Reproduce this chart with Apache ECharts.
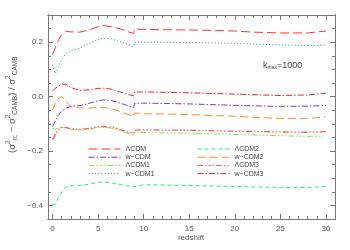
<!DOCTYPE html>
<html><head><meta charset="utf-8">
<script src="https://cdn.jsdelivr.net/npm/echarts@6/dist/echarts.min.js"></script>
<style>html,body{margin:0;padding:0;background:#fff}#c{width:350px;height:250px}</style>
</head><body><div id="c"></div>
<script>
// ---- data ----
const redshift = [0, 0.3, 0.6, 1, 1.5, 2, 3, 4, 5, 5.6, 6.5, 7.5, 8.5, 8.9, 9.0, 10, 12, 15, 18, 20, 22, 25, 28, 30];
const LCDM   = [0.155, 0.18, 0.205, 0.228, 0.24, 0.238, 0.237, 0.245, 0.257, 0.261, 0.257, 0.248, 0.236, 0.232, 0.248, 0.247, 0.246, 0.245, 0.243, 0.241, 0.237, 0.234, 0.234, 0.241];
const wCDM1  = [0.117, 0.085, 0.105, 0.135, 0.16, 0.17, 0.178, 0.195, 0.21, 0.215, 0.212, 0.201, 0.188, 0.184, 0.2, 0.2, 0.2, 0.199, 0.197, 0.196, 0.193, 0.19, 0.188, 0.189];
const wCDM3  = [0.022, 0.03, 0.038, 0.046, 0.045, 0.033, 0.023, 0.025, 0.03, 0.031, 0.027, 0.016, 0.006, 0.003, 0.017, 0.017, 0.016, 0.014, 0.011, 0.009, 0.007, 0.004, 0.006, 0.012];
const wCDM   = [-0.11, -0.09, -0.07, -0.055, -0.042, -0.036, -0.033, -0.025, -0.015, -0.012, -0.015, -0.025, -0.036, -0.04, -0.025, -0.024, -0.025, -0.027, -0.03, -0.032, -0.034, -0.036, -0.035, -0.033];
const wCDM2  = [-0.05, -0.025, -0.007, 0.0, -0.02, -0.035, -0.042, -0.042, -0.04, -0.04, -0.045, -0.056, -0.068, -0.073, -0.06, -0.063, -0.064, -0.066, -0.07, -0.072, -0.076, -0.08, -0.08, -0.075];
const LCDM3  = [-0.158, -0.14, -0.122, -0.113, -0.114, -0.118, -0.121, -0.117, -0.111, -0.11, -0.113, -0.122, -0.132, -0.135, -0.123, -0.122, -0.123, -0.124, -0.126, -0.127, -0.128, -0.13, -0.131, -0.129];
const LCDM1  = [-0.115, -0.12, -0.115, -0.112, -0.115, -0.12, -0.124, -0.12, -0.113, -0.112, -0.116, -0.126, -0.138, -0.142, -0.131, -0.132, -0.133, -0.135, -0.137, -0.139, -0.141, -0.144, -0.146, -0.145];
const LCDM2  = [-0.397, -0.397, -0.375, -0.35, -0.332, -0.328, -0.327, -0.322, -0.315, -0.314, -0.317, -0.324, -0.33, -0.331, -0.324, -0.324, -0.325, -0.327, -0.329, -0.33, -0.332, -0.334, -0.334, -0.331];

const xMajorTicks = [0, 5, 10, 15, 20, 25, 30];
const xMinorTicks = [0,1,2,3,4,5,6,7,8,9,10,11,12,13,14,15,16,17,18,19,20,21,22,23,24,25,26,27,28,29,30,31];
const yMajorTicks = [-0.4, -0.2, 0.0, 0.2];
const yMinorTicks = [-0.45, -0.4, -0.35, -0.3, -0.25, -0.2, -0.15, -0.1, -0.05, 0, 0.05, 0.1, 0.15, 0.2, 0.25, 0.3];

// ---- chart ----
const FONT = 'Liberation Sans, Arial, sans-serif';
const AX = '#777', TX = '#555';
const xr = {min: -0.5, max: 31}, yr = {min: -0.45, max: 0.30};

function xAx(pos, ticks, len, labels) {
  return Object.assign({type: 'value', position: pos, gridIndex: 0,
    axisLine: {show: true, onZero: false, lineStyle: {color: AX, width: 1}},
    splitLine: {show: false},
    axisTick: {show: true, inside: true, length: len, customValues: ticks, lineStyle: {color: AX}},
    axisLabel: labels ? {show: true, customValues: xMajorTicks, color: TX, fontSize: 8, fontFamily: FONT, margin: 6, formatter: v => String(v)} : {show: false}
  }, xr);
}
function yAx(pos, ticks, len, labels) {
  return Object.assign({type: 'value', position: pos, gridIndex: 0,
    axisLine: {show: true, onZero: false, lineStyle: {color: AX, width: 1}},
    splitLine: {show: false},
    axisTick: {show: true, inside: true, length: len, customValues: ticks, lineStyle: {color: AX}},
    axisLabel: labels ? {show: true, customValues: yMajorTicks, color: TX, fontSize: 8, fontFamily: FONT, margin: 5,
      formatter: v => (v < 0 ? '\u2212' : '') + Math.abs(v).toFixed(1)} : {show: false}
  }, yr);
}

function ser(name, data, color, type, width) {
  return {name, type: 'line', xAxisIndex: 0, yAxisIndex: 0, symbol: 'none', showSymbol: false,
    data: redshift.map((x, i) => [x, data[i]]),
    lineStyle: {color, width: width || 1, type},
    itemStyle: {color}, emphasis: {disabled: true}, animation: false};
}

const series = [
  ser('\u039bCDM', LCDM, '#ff3333', [9, 4]),
  ser('w\u2212CDM', wCDM, '#7a3cc8', [6, 2, 1.5, 2]),
  ser('\u039bCDM1', LCDM1, '#88e050', [6, 2, 1.5, 2, 1.5, 2, 1.5, 2]),
  ser('w\u2212CDM1', wCDM1, '#4d8cff', [1.2, 2]),
  ser('\u039bCDM2', LCDM2, '#22ee88', [4, 3]),
  ser('w\u2212CDM2', wCDM2, '#ff8a2a', [8, 4]),
  ser('\u039bCDM3', LCDM3, '#ff5a5a', [6, 2, 1.5, 2, 1.5, 2, 1.5, 2], 1.3),
  ser('w\u2212CDM3', wCDM3, '#ee2222', [6, 2, 1.5, 2])
];

const legendCommon = {orient: 'vertical', itemWidth: 32, itemHeight: 8, itemGap: 0.2, padding: 0,
  textStyle: {fontSize: 7, color: '#444', fontFamily: FONT, lineHeight: 8, padding: [0, 0, 0, 0]},
  itemStyle: {opacity: 0}, lineStyle: {width: 1}, selectedMode: false};

const chart = echarts.init(document.getElementById('c'), null, {renderer: 'canvas'});
chart.setOption({
  animation: false,
  backgroundColor: '#fff',
  grid: {left: 48, right: 15, top: 15, bottom: 31, containLabel: false},
  xAxis: [xAx('bottom', xMajorTicks, 5, true), xAx('top', xMajorTicks, 5, false),
          xAx('bottom', xMinorTicks, 3, false), xAx('top', xMinorTicks, 3, false)],
  yAxis: [yAx('left', yMajorTicks, 5, true), yAx('right', yMajorTicks, 5, false),
          yAx('left', yMinorTicks, 3, false), yAx('right', yMinorTicks, 3, false)],
  legend: [
    Object.assign({left: 88, top: 145, data: ['\u039bCDM', 'w\u2212CDM', '\u039bCDM1', 'w\u2212CDM1']}, legendCommon),
    Object.assign({left: 197, top: 145, data: ['\u039bCDM2', 'w\u2212CDM2', '\u039bCDM3', 'w\u2212CDM3']}, legendCommon)
  ],
  series,
  graphic: [
    {type: 'text', x: 191, y: 234, style: {text: 'redshift', fontSize: 8, fill: TX, fontFamily: FONT, align: 'center'}},
    {type: 'text', x: 263, y: 61, style: {
      text: '{k|k}{s|max}{k|=1000}', fill: '#444', fontFamily: FONT,
      rich: {k: {fontSize: 9, fill: '#444', fontFamily: FONT, verticalAlign: 'top'},
             s: {fontSize: 5, fill: '#444', fontFamily: FONT, verticalAlign: 'bottom', padding: [4, 0, 0, 0]}}}},
    {type: 'text', x: 5, y: 153, rotation: Math.PI / 2, style: {
      text: '{n|(\u03c3}{p|2}{b|rc}{n| \u2212 \u03c3}{p|2}{b|CAMB}{n|) / \u03c3}{p|2}{b|CAMB}',
      fill: TX, fontFamily: FONT,
      rich: {n: {fontSize: 9.5, fill: TX, fontFamily: FONT, lineHeight: 14, verticalAlign: 'middle'},
             p: {fontSize: 6.5, fill: TX, fontFamily: FONT, verticalAlign: 'top', lineHeight: 14},
             b: {fontSize: 6.5, fill: TX, fontFamily: FONT, verticalAlign: 'bottom', lineHeight: 14}}}}
  ]
});
</script></body></html>
